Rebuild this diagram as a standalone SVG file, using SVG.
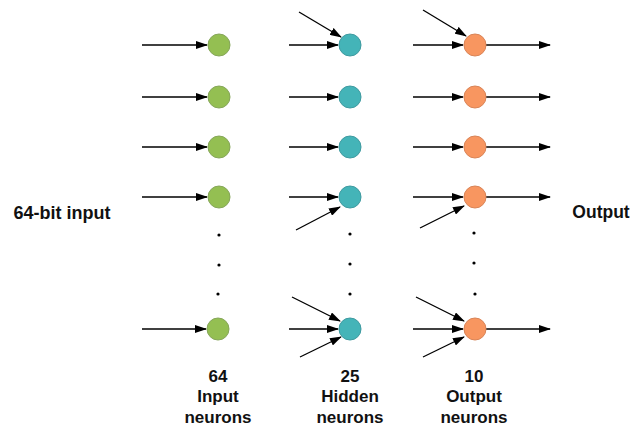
<svg xmlns="http://www.w3.org/2000/svg" width="643" height="428" viewBox="0 0 643 428">
<defs>
<marker id="ah" markerWidth="12" markerHeight="8" refX="11" refY="4" orient="auto" markerUnits="userSpaceOnUse">
<path d="M0,0 L12,4 L0,8 Z" fill="#000"/>
</marker>
<style>
.c line{stroke:#000;stroke-width:1.3;marker-end:url(#ah)}
.in{fill:#94bf52;stroke:#86a65a;stroke-width:1}
.hid{fill:#44b4b8;stroke:#3f9aa0;stroke-width:1}
.out{fill:#f89660;stroke:#d98457;stroke-width:1}
.dot{fill:#000}
text{font-family:"Liberation Sans",Arial,sans-serif;font-weight:bold;font-size:17px;fill:#111;text-anchor:middle}
</style>
</defs>
<rect width="643" height="428" fill="#fff"/>
<g class="c" id="connectors">
<line x1="142" y1="45" x2="207" y2="45"/>
<line x1="142" y1="97" x2="207" y2="97"/>
<line x1="142" y1="147" x2="207" y2="147"/>
<line x1="142" y1="197" x2="207" y2="197"/>
<line x1="142" y1="329" x2="206" y2="329"/>
<line x1="289" y1="45" x2="338" y2="45"/>
<line x1="299" y1="12" x2="341" y2="37"/>
<line x1="289" y1="97" x2="338" y2="97"/>
<line x1="289" y1="147" x2="338" y2="147"/>
<line x1="289" y1="197" x2="338" y2="197"/>
<line x1="296" y1="230" x2="340" y2="207"/>
<line x1="289" y1="329" x2="338" y2="329"/>
<line x1="292" y1="297" x2="340" y2="321"/>
<line x1="300" y1="357" x2="341" y2="337"/>
<line x1="413" y1="45" x2="463" y2="45"/>
<line x1="423" y1="10" x2="466" y2="36"/>
<line x1="413" y1="97" x2="463" y2="97"/>
<line x1="413" y1="147" x2="463" y2="147"/>
<line x1="413" y1="197" x2="463" y2="197"/>
<line x1="420" y1="228" x2="464" y2="206"/>
<line x1="413" y1="329" x2="463" y2="329"/>
<line x1="416" y1="297" x2="464" y2="321"/>
<line x1="423" y1="357" x2="464" y2="337"/>
<line x1="486" y1="45" x2="550" y2="45"/>
<line x1="486" y1="97" x2="550" y2="97"/>
<line x1="486" y1="147" x2="550" y2="147"/>
<line x1="486" y1="197" x2="550" y2="197"/>
<line x1="486" y1="329" x2="550" y2="329"/>
</g>
<g id="input-neurons">
<circle class="in" cx="219" cy="45" r="11"/>
<circle class="in" cx="219" cy="97" r="11"/>
<circle class="in" cx="219" cy="147" r="11"/>
<circle class="in" cx="219" cy="197" r="11"/>
<circle class="in" cx="218" cy="329" r="11"/>
<circle class="dot" cx="219" cy="235" r="1.6"/>
<circle class="dot" cx="219" cy="265" r="1.6"/>
<circle class="dot" cx="218" cy="294" r="1.6"/>
</g>
<g id="hidden-neurons">
<circle class="hid" cx="350" cy="45" r="11"/>
<circle class="hid" cx="350" cy="97" r="11"/>
<circle class="hid" cx="350" cy="147" r="11"/>
<circle class="hid" cx="350" cy="197" r="11"/>
<circle class="hid" cx="350" cy="329" r="11"/>
<circle class="dot" cx="350" cy="234" r="1.6"/>
<circle class="dot" cx="350" cy="264" r="1.6"/>
<circle class="dot" cx="350" cy="294" r="1.6"/>
</g>
<g id="output-neurons">
<circle class="out" cx="475" cy="45" r="11"/>
<circle class="out" cx="475" cy="97" r="11"/>
<circle class="out" cx="475" cy="147" r="11"/>
<circle class="out" cx="475" cy="197" r="11"/>
<circle class="out" cx="475" cy="329" r="11"/>
<circle class="dot" cx="474" cy="233" r="1.6"/>
<circle class="dot" cx="474" cy="263" r="1.6"/>
<circle class="dot" cx="475" cy="294" r="1.6"/>
</g>
<g id="labels">
<text x="62" y="219" style="font-size:18px">64-bit input</text>
<text x="601" y="218" style="font-size:17.5px">Output</text>
<text x="218" y="382">64</text>
<text x="218" y="402">Input</text>
<text x="218" y="423">neurons</text>
<text x="350" y="382">25</text>
<text x="350" y="402">Hidden</text>
<text x="350" y="423">neurons</text>
<text x="474" y="382">10</text>
<text x="474" y="402">Output</text>
<text x="474" y="423">neurons</text>
</g>
</svg>
